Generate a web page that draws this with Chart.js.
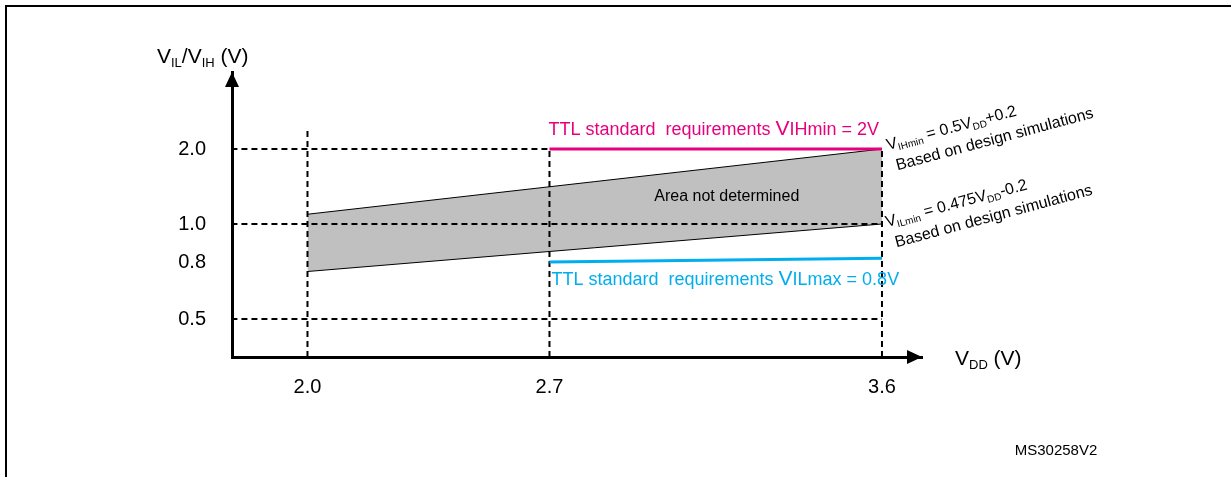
<!DOCTYPE html>
<html>
<head>
<meta charset="utf-8">
<script src="https://cdn.jsdelivr.net/npm/chart.js@4/dist/chart.umd.min.js"></script>
<style>
  html, body { margin: 0; padding: 0; background: #fff; }
  #wrap { width: 1231px; height: 477px; position: relative; }
</style>
</head>
<body>
<div id="wrap"><canvas id="chart"></canvas></div>
<script>
// tick values (V)
const vddTicks = [2.0, 2.7, 3.6]
const vinTicks = [0.5, 0.8, 1.0, 2.0]

// band of undetermined input level, edges as drawn
const bandVdd = [2.0, 3.6]
const vihMin = [1.13, 2.0]   // VIHmin = 0.5VDD+0.2
const vilMin = [0.75, 1.0]   // VILmin = 0.475VDD-0.2

// TTL requirement lines
const ttlVdd = [2.7, 3.6]
const ttlVih = [2.0, 2.0]
const ttlVil = [0.8, 0.82]

// dashed guides
const guideLevels = [0.5, 1.0, 2.0]
const guideVdd = [2.0, 2.7, 3.6]
const guideTops = [2.24, 2.0, 2.0]
const originVdd = 1.78
const originVin = 0.3

// the drawing is schematic: ticks are not evenly spaced,
// so each tick gets its own place along the axis (0..1)
const vddSlots = [0.1094, 0.4601, 0.942]
const vinSlots = [0.1333, 0.3333, 0.4667, 0.7298]

const FONT = '"Liberation Sans", Arial, sans-serif'
const PINK = '#e6007e'
const BLUE = '#00aeef'

const warp = (v, ticks, slots) => {
  let i = 0
  while (i < ticks.length - 2 && v > ticks[i + 1]) i++
  const t = (v - ticks[i]) / (ticks[i + 1] - ticks[i])
  return slots[i] + t * (slots[i + 1] - slots[i])
}
const wx = v => warp(v, vddTicks, vddSlots)
const wy = v => warp(v, vinTicks, vinSlots)
const pts = (xs, ys) => xs.map((x, i) => ({ x: wx(x), y: wy(ys[i]) }))

const lastVdd = vddTicks[vddTicks.length - 1]

const dashed = data => ({
  data,
  showLine: true,
  borderColor: '#000',
  borderWidth: 2,
  borderDash: [6, 4],
  pointRadius: 0,
  fill: false,
  order: 5
})

const datasets = [
  {
    data: pts(bandVdd, vihMin),
    showLine: true,
    borderColor: '#000',
    borderWidth: 1,
    backgroundColor: '#c0c0c0',
    fill: '+1',
    pointRadius: 0,
    order: 11
  },
  {
    data: pts(bandVdd, vilMin),
    showLine: true,
    borderColor: '#000',
    borderWidth: 1,
    pointRadius: 0,
    fill: false,
    order: 10
  },
  ...guideLevels.map(v => dashed(pts([originVdd, lastVdd], [v, v]))),
  ...guideVdd.map((x, i) => dashed(pts([x, x], [originVin, guideTops[i]]))),
  {
    data: pts(ttlVdd, ttlVih),
    showLine: true,
    borderColor: PINK,
    borderWidth: 3,
    pointRadius: 0,
    fill: false,
    order: 1
  },
  {
    data: pts(ttlVdd, ttlVil),
    showLine: true,
    borderColor: BLUE,
    borderWidth: 3,
    pointRadius: 0,
    fill: false,
    order: 1
  }
]

const drawRich = (ctx, parts, x, y) => {
  parts.forEach(p => {
    ctx.font = `${p.size}px ${FONT}`
    ctx.fillText(p.text, x, y + (p.dy || 0))
    x += ctx.measureText(p.text).width
  })
}

const sub = (text, size) => ({ text, size, dy: Math.round(size * 0.3) })

const decorations = {
  id: 'decorations',
  afterDraw (chart) {
    const ctx = chart.ctx
    const { left, top, right, bottom } = chart.chartArea
    const sx = chart.scales.x
    const sy = chart.scales.y
    const px = v => sx.getPixelForValue(wx(v))
    const py = v => sy.getPixelForValue(wy(v))

    ctx.save()
    ctx.fillStyle = '#000'
    ctx.strokeStyle = '#000'

    // frame
    ctx.lineWidth = 2
    ctx.strokeRect(6, 6, 1300, 600)

    // arrow heads
    ctx.beginPath()
    ctx.moveTo(left, top)
    ctx.lineTo(left - 7, top + 15)
    ctx.lineTo(left + 7, top + 15)
    ctx.closePath()
    ctx.fill()
    ctx.beginPath()
    ctx.moveTo(right, bottom)
    ctx.lineTo(right - 15, bottom - 7)
    ctx.lineTo(right - 15, bottom + 7)
    ctx.closePath()
    ctx.fill()

    ctx.textAlign = 'left'
    ctx.textBaseline = 'alphabetic'

    // axis titles
    drawRich(ctx, [
      { text: 'V', size: 21 }, sub('IL', 13),
      { text: '/V', size: 21 }, sub('IH', 13),
      { text: ' (V)', size: 21 }
    ], left - 75, top - 9)
    drawRich(ctx, [
      { text: 'V', size: 21 }, sub('DD', 13),
      { text: ' (V)', size: 21 }
    ], right + 33, bottom + 8)

    // TTL requirement labels
    ctx.fillStyle = PINK
    drawRich(ctx, [
      { text: 'TTL standard  requirements ', size: 18 },
      { text: 'V', size: 21 },
      { text: 'IHmin = 2V', size: 18 }
    ], px(ttlVdd[0]) - 1, py(ttlVih[0]) - 14)
    ctx.fillStyle = BLUE
    drawRich(ctx, [
      { text: 'TTL standard  requirements ', size: 18 },
      { text: 'V', size: 21 },
      { text: 'ILmax = 0.8V', size: 18 }
    ], px(ttlVdd[0]) + 2, py(ttlVil[0]) + 23)

    // band label
    ctx.fillStyle = '#000'
    ctx.font = `16px ${FONT}`
    ctx.textAlign = 'center'
    ctx.textBaseline = 'middle'
    ctx.fillText('Area not determined', px(3.18), py(1.36))

    // formulas along the band edges
    ctx.textAlign = 'left'
    ctx.textBaseline = 'alphabetic'
    const angle = -15 * Math.PI / 180
    const note = (x, y, first) => {
      ctx.save()
      ctx.translate(x, y)
      ctx.rotate(angle)
      drawRich(ctx, first, 0, 0)
      drawRich(ctx, [{ text: 'Based on design simulations', size: 16 }], 4, 22)
      ctx.restore()
    }
    note(px(lastVdd) + 6, py(vihMin[1]) + 1, [
      { text: 'V', size: 16 }, sub('IHmin', 10),
      { text: ' = 0.5V', size: 16 }, sub('DD', 10),
      { text: '+0.2', size: 16 }
    ])
    note(px(lastVdd) + 5, py(vilMin[1]) + 3, [
      { text: 'V', size: 16 }, sub('ILmin', 10),
      { text: ' = 0.475V', size: 16 }, sub('DD', 10),
      { text: '-0.2', size: 16 }
    ])

    // figure reference
    ctx.font = `15px ${FONT}`
    ctx.textAlign = 'center'
    ctx.textBaseline = 'middle'
    ctx.fillText('MS30258V2', 1056, 451)

    ctx.restore()
  }
}

const tickFont = { family: FONT, size: 20 }

new Chart(document.getElementById('chart'), {
  type: 'scatter',
  data: { datasets },
  options: {
    responsive: true,
    maintainAspectRatio: false,
    animation: false,
    events: [],
    layout: { padding: { top: 72, right: 309, left: 0, bottom: 0 } },
    plugins: {
      legend: { display: false },
      tooltip: { enabled: false }
    },
    scales: {
      x: {
        type: 'linear',
        min: 0,
        max: 1,
        grid: { display: false, drawTicks: false },
        border: { display: true, color: '#000', width: 3 },
        afterBuildTicks: s => { s.ticks = vddTicks.map(v => ({ value: wx(v) })) },
        afterFit: s => { s.height = 120 },
        ticks: {
          autoSkip: false,
          maxRotation: 0,
          padding: 18,
          color: '#000',
          font: tickFont,
          callback: (v, i) => vddTicks[i].toFixed(1)
        }
      },
      y: {
        type: 'linear',
        min: 0,
        max: 1,
        grid: { display: false, drawTicks: false },
        border: { display: true, color: '#000', width: 3 },
        afterBuildTicks: s => { s.ticks = vinTicks.map(v => ({ value: wy(v) })) },
        afterFit: s => { s.width = 232 },
        ticks: {
          autoSkip: false,
          padding: 26,
          color: '#000',
          font: tickFont,
          callback: (v, i) => vinTicks[i].toFixed(1)
        }
      }
    }
  },
  plugins: [decorations]
})
</script>
</body>
</html>
